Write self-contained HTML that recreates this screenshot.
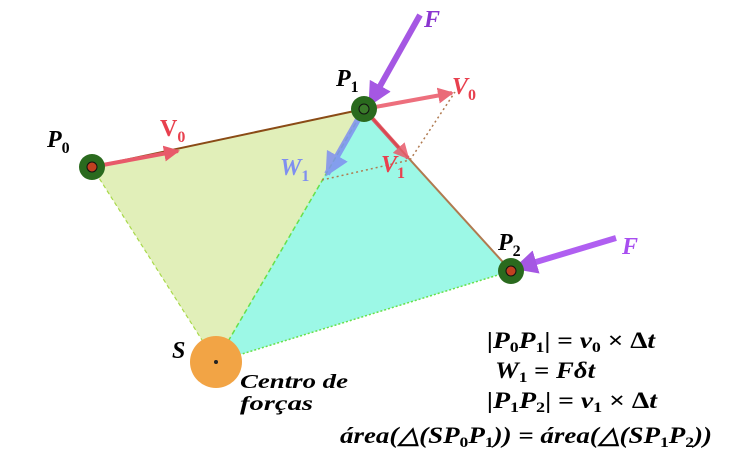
<!DOCTYPE html>
<html><head><meta charset="utf-8"><style>
body{margin:0;background:#fff;width:739px;height:457px;overflow:hidden}
svg{display:block}
.m{font-family:"Liberation Serif",serif;font-style:italic;font-weight:bold}
</style></head><body>
<svg width="739" height="457" viewBox="0 0 739 457">
<defs>
<marker id="ar" markerWidth="4" markerHeight="4" refX="3.5" refY="2" orient="auto" markerUnits="strokeWidth"><path d="M0,0 L4,2 L0,4 z" fill="#e85a6a"/></marker>
<marker id="ap" markerWidth="4" markerHeight="4" refX="3.5" refY="2" orient="auto" markerUnits="strokeWidth"><path d="M0,0 L4,2 L0,4 z" fill="#9c45e0"/></marker>
<marker id="ab" markerWidth="4" markerHeight="4" refX="3.5" refY="2" orient="auto" markerUnits="strokeWidth"><path d="M0,0 L4,2 L0,4 z" fill="#7f8ff0"/></marker>
</defs>
<polygon points="92,167 364,109 216,362" fill="#e1efb9"/>
<polygon points="216,362 322,180 364,109 511,271" fill="#9cf8e6"/>
<line x1="92" y1="167" x2="364" y2="109" stroke="#8a4b16" stroke-width="2"/>
<line x1="364" y1="109" x2="511" y2="271" stroke="#b07a50" stroke-width="2"/>
<line x1="92" y1="167" x2="216" y2="362" stroke="#a8d94a" stroke-width="1.2" stroke-dasharray="4,3"/>
<line x1="216" y1="362" x2="364" y2="109" stroke="#66e04a" stroke-width="1.5" stroke-dasharray="5,3"/>
<line x1="216" y1="362" x2="511" y2="271" stroke="#66e04a" stroke-width="1.5" stroke-dasharray="2,2"/>
<line x1="322" y1="180" x2="410" y2="160" stroke="#b07a50" stroke-width="1.5" stroke-dasharray="2,3"/>
<line x1="410" y1="160" x2="455" y2="92" stroke="#b07a50" stroke-width="1.5" stroke-dasharray="2,3"/>
<circle cx="216" cy="362" r="26" fill="#f2a445"/>
<circle cx="216" cy="362" r="2" fill="#222"/>
<line x1="92" y1="167" x2="178" y2="151" stroke="#e85a6a" stroke-width="4" marker-end="url(#ar)"/>
<line x1="364" y1="109" x2="452" y2="93" stroke="#ec6070" stroke-width="4" marker-end="url(#ar)" opacity="0.9"/>
<line x1="364" y1="109" x2="408" y2="158" stroke="#e04050" stroke-width="4" marker-end="url(#ar)" opacity="0.85"/>
<line x1="364" y1="109" x2="327" y2="174" stroke="#7f8ff0" stroke-width="6" marker-end="url(#ab)" opacity="0.85"/>
<line x1="420" y1="15" x2="370" y2="104" stroke="#9c45e0" stroke-width="6" marker-end="url(#ap)" opacity="0.9"/>
<line x1="616" y1="238" x2="516" y2="268" stroke="#a84ef0" stroke-width="6" marker-end="url(#ap)" opacity="0.9"/>
<g>
<circle cx="92" cy="167" r="13" fill="#2a6a1e"/><circle cx="92" cy="167" r="5" fill="#c04020" stroke="#111"/>
<circle cx="364" cy="109" r="13" fill="#2a6a1e"/><circle cx="364" cy="109" r="5" fill="#3a7a2a" stroke="#111"/>
<circle cx="511" cy="271" r="13" fill="#2a6a1e"/><circle cx="511" cy="271" r="5" fill="#c04020" stroke="#111"/>
</g>
<g class="m" font-size="24">
<text x="47" y="147" fill="#000">P<tspan font-size="16" font-style="normal" dy="6">0</tspan></text>
<text x="336" y="86" fill="#000">P<tspan font-size="16" font-style="normal" dy="6">1</tspan></text>
<text x="498" y="250" fill="#000">P<tspan font-size="16" font-style="normal" dy="6">2</tspan></text>
<text x="172" y="358" fill="#000">S</text>
<text x="160" y="136" fill="#e8404e" font-style="normal">V<tspan font-size="16" dy="6">0</tspan></text>
<text x="452" y="94" fill="#e8404e">V<tspan font-size="16" font-style="normal" dy="6">0</tspan></text>
<text x="381" y="172" fill="#e8404e">V<tspan font-size="16" font-style="normal" dy="6">1</tspan></text>
<text x="280" y="175" fill="#7f8ff0">W<tspan font-size="16" font-style="normal" dy="6">1</tspan></text>
<text x="424" y="27" fill="#8a35d0">F</text>
<text x="622" y="254" fill="#a84ef0">F</text>
</g>
<g class="m" font-size="20" fill="#000">
<text x="240" y="388" textLength="108" lengthAdjust="spacingAndGlyphs">Centro de</text>
<text x="240" y="410" textLength="73" lengthAdjust="spacingAndGlyphs">forças</text>
</g>
<g class="m" font-size="23" fill="#000">
<text x="487" y="348" textLength="168" lengthAdjust="spacingAndGlyphs">|P<tspan font-size="15" font-style="normal" dy="4">0</tspan><tspan dy="-4">P</tspan><tspan font-size="15" font-style="normal" dy="4">1</tspan><tspan dy="-4" font-style="normal">| = </tspan>v<tspan font-size="15" font-style="normal" dy="4">0</tspan><tspan dy="-4" font-style="normal"> × Δ</tspan>t</text>
<text x="495" y="378" textLength="100" lengthAdjust="spacingAndGlyphs">W<tspan font-size="15" font-style="normal" dy="4">1</tspan><tspan dy="-4" font-style="normal"> = </tspan>Fδt</text>
<text x="487" y="408" textLength="170" lengthAdjust="spacingAndGlyphs">|P<tspan font-size="15" font-style="normal" dy="4">1</tspan><tspan dy="-4">P</tspan><tspan font-size="15" font-style="normal" dy="4">2</tspan><tspan dy="-4" font-style="normal">| = </tspan>v<tspan font-size="15" font-style="normal" dy="4">1</tspan><tspan dy="-4" font-style="normal"> × Δ</tspan>t</text>
<text x="340" y="443" textLength="372" lengthAdjust="spacingAndGlyphs">área(△(SP<tspan font-size="15" font-style="normal" dy="4">0</tspan><tspan dy="-4">P</tspan><tspan font-size="15" font-style="normal" dy="4">1</tspan><tspan dy="-4">)) = área(△(SP</tspan><tspan font-size="15" font-style="normal" dy="4">1</tspan><tspan dy="-4">P</tspan><tspan font-size="15" font-style="normal" dy="4">2</tspan><tspan dy="-4">))</tspan></text>
</g>
</svg>
</body></html>
